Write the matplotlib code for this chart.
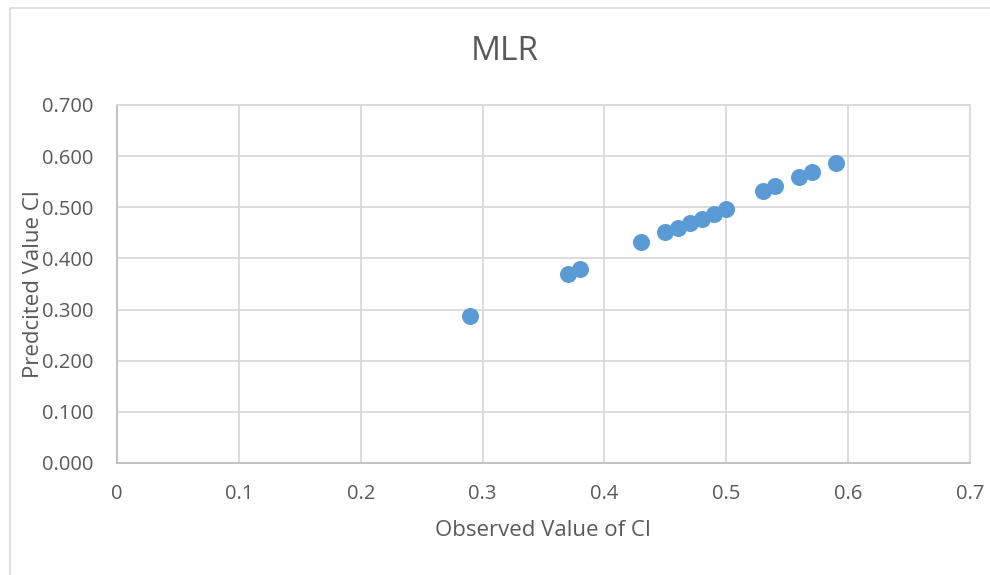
import matplotlib.pyplot as plt
from matplotlib.patches import Rectangle

# Observed vs predicted CI
observed = [0.29, 0.37, 0.38, 0.43, 0.45, 0.46, 0.47, 0.48, 0.49, 0.50,
            0.53, 0.54, 0.56, 0.57, 0.59]
predicted = [0.288, 0.369, 0.379, 0.433, 0.452, 0.460, 0.469, 0.478,
             0.487, 0.497, 0.532, 0.541, 0.560, 0.569, 0.587]

x_ticks = [0, 0.1, 0.2, 0.3, 0.4, 0.5, 0.6, 0.7]
y_ticks = [0.0, 0.1, 0.2, 0.3, 0.4, 0.5, 0.6, 0.7]

plt.rcParams['font.family'] = ['Open Sans', 'DejaVu Sans']
text_col = "#595959"
grid_col = "#D9D9D9"

fig = plt.figure(figsize=(9.9, 5.75), dpi=100)
ax = fig.add_axes([117 / 990, 1 - 463 / 575, (970 - 117) / 990, (463 - 105) / 575])

ax.scatter(observed, predicted, s=150, color="#5B9BD5", zorder=3, linewidths=0)

ax.set_xlim(0, 0.7)
ax.set_ylim(0, 0.7)
ax.set_xticks(x_ticks)
ax.set_xticklabels(["0", "0.1", "0.2", "0.3", "0.4", "0.5", "0.6", "0.7"])
ax.set_yticks(y_ticks)
ax.set_yticklabels([f"{v:.3f}" for v in y_ticks])
ax.grid(True, color=grid_col, linewidth=1.3)
ax.set_axisbelow(True)
ax.tick_params(length=0, labelsize=14.5, colors=text_col)
ax.tick_params(axis="y", pad=17)
ax.tick_params(axis="x", pad=15)
for s in ax.spines.values():
    s.set_color(grid_col)
    s.set_linewidth(1.3)
ax.spines["left"].set_color("#BFBFBF")
ax.spines["bottom"].set_color("#BFBFBF")

ax.set_xlabel("Observed Value of CI", fontsize=16, color=text_col)
ax.set_ylabel("Predcited Value CI", fontsize=16, color=text_col)
ax.yaxis.set_label_coords(-0.085, 0.5)
ax.xaxis.set_label_coords(0.5, -0.16)
fig.text(0.51, 1 - 52 / 575, "MLR", fontsize=24, color=text_col, ha="center", va="center")

# chart border
fig.patches.append(Rectangle((10 / 990, -0.01), 1.0, 1 - 8 / 575 + 0.01, transform=fig.transFigure,
                             fill=False, edgecolor="#D9D9D9", linewidth=1.2))

fig.savefig("out.png", dpi=100)
